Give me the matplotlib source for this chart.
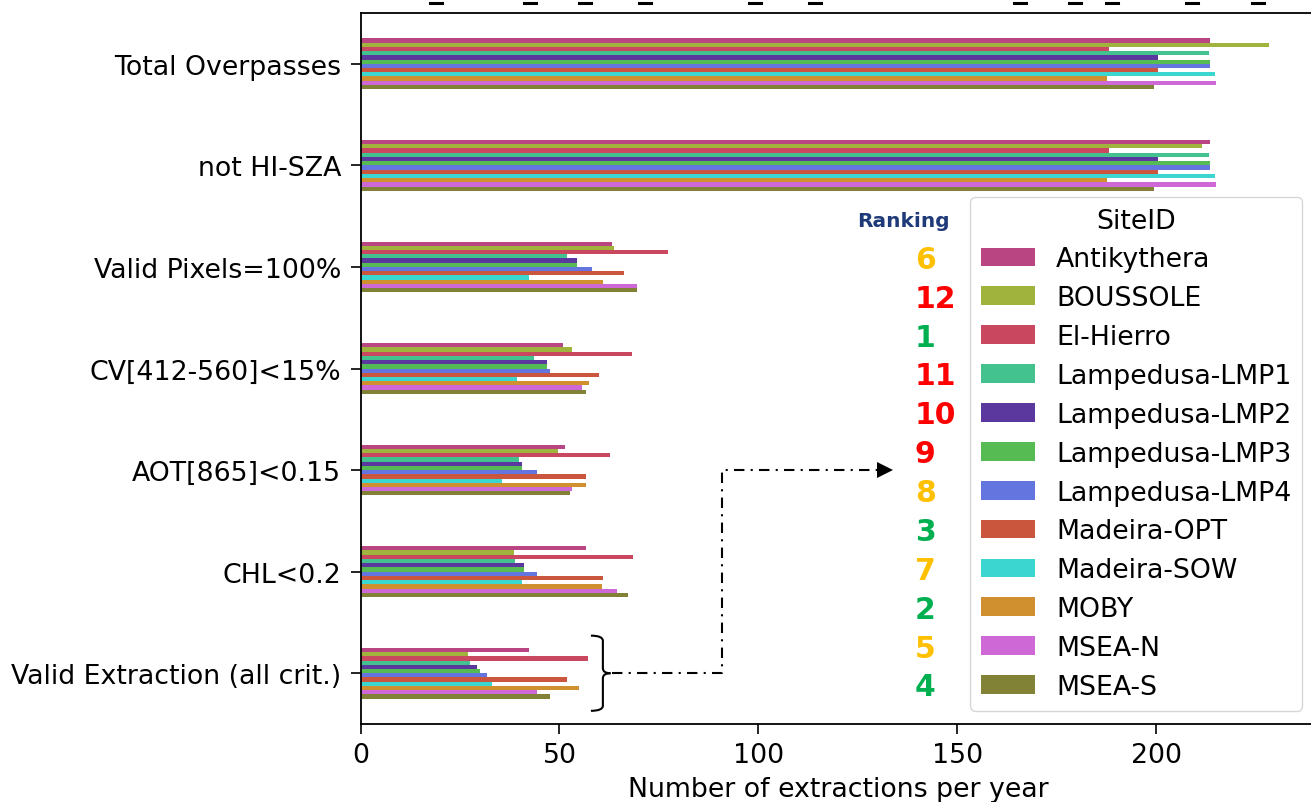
import numpy as np
import matplotlib
matplotlib.use("Agg")
import matplotlib.pyplot as plt
from matplotlib.lines import Line2D
from matplotlib.path import Path
from matplotlib.patches import PathPatch

# Filtering steps (rows) and sites (series)
criteria = ["Total Overpasses", "not HI-SZA", "Valid Pixels=100%",
            "CV[412-560]<15%", "AOT[865]<0.15", "CHL<0.2",
            "Valid Extraction (all crit.)"]
sites = ["Antikythera", "BOUSSOLE", "El-Hierro", "Lampedusa-LMP1",
         "Lampedusa-LMP2", "Lampedusa-LMP3", "Lampedusa-LMP4",
         "Madeira-OPT", "Madeira-SOW", "MOBY", "MSEA-N", "MSEA-S"]

# Extractions per year, one list per site, in the order of `criteria`
antikythera = [213.5, 213.5, 63.1, 50.8, 51.4, 56.7, 42.4]
boussole    = [228.4, 211.5, 63.7, 53.2, 49.7, 38.6, 26.9]
el_hierro   = [188.0, 188.0, 77.3, 68.3, 62.7, 68.5, 57.2]
lmp1        = [213.3, 213.3, 51.8, 43.6, 39.9, 38.8, 27.5]
lmp2        = [200.5, 200.5, 54.5, 46.9, 40.7, 41.1, 29.2]
lmp3        = [213.5, 213.5, 54.3, 46.9, 40.5, 41.1, 30.0]
lmp4        = [213.5, 213.5, 58.2, 47.5, 44.3, 44.3, 31.7]
madeira_opt = [200.5, 200.5, 66.2, 60.0, 56.6, 61.0, 52.0]
madeira_sow = [214.6, 214.6, 42.4, 39.2, 35.5, 40.7, 33.0]
moby        = [187.5, 187.5, 61.0, 57.5, 56.7, 60.8, 55.0]
msea_n      = [214.9, 214.9, 69.5, 55.7, 53.1, 64.4, 44.3]
msea_s      = [199.5, 199.5, 69.4, 56.6, 52.6, 67.1, 47.6]

series = [antikythera, boussole, el_hierro, lmp1, lmp2, lmp3, lmp4,
          madeira_opt, madeira_sow, moby, msea_n, msea_s]

# Ranking of each site (1 = best)
ranking = [6, 12, 1, 11, 10, 9, 8, 3, 7, 2, 5, 4]

colors = ["#b33579", "#98ad2c", "#c63752", "#33bd87", "#4c2795", "#49b545",
          "#5869de", "#c6472d", "#2bd3cd", "#cd871d", "#c95bd3", "#777725"]


def rank_color(r):
    if r <= 4:
        return "#00b050"
    if r <= 8:
        return "#ffc000"
    return "#ff0000"


plt.rcParams["font.family"] = ["DejaVu Sans"]
fs = 19.3

fig = plt.figure(figsize=(13.11, 8.03), dpi=100)
ax = fig.add_axes([0.275, 0.0971, 0.7285, 0.8855])

n = len(sites)
group_width = 0.5
w = group_width / n
ypos = np.arange(len(criteria))
for j, (name, vals, c) in enumerate(zip(sites, series, colors)):
    ax.barh(ypos - group_width / 2 + (j + 0.5) * w, vals, height=w,
            color=c, alpha=0.92, label=name)

ax.set_yticks(ypos)
ax.set_yticklabels(criteria, fontsize=fs)
ax.set_ylim(-0.5, len(criteria) - 0.5)
ax.invert_yaxis()
ax.set_xlim(0, 240)
ax.set_xticks([0, 50, 100, 150, 200])
ax.tick_params(axis="x", labelsize=fs, length=7, width=1.2, pad=6)
ax.tick_params(axis="y", length=7, width=1.2, pad=7)
ax.set_xlabel("Number of extractions per year", fontsize=fs, labelpad=6)
for sp in ax.spines.values():
    sp.set_linewidth(1.3)

leg = ax.legend(title="SiteID", loc="lower right", fontsize=fs,
                title_fontsize=fs, labelspacing=0.48)

# Curly bracket around the last group and dash-dot leader to the ranking
last = len(criteria) - 1
bx, half = 60.9, 0.37
tip = 62.8
verts = [(bx - 3.0, last - half), (bx, last - half), (bx, last - half + 0.05),
         (bx, last - 0.05), (bx, last), (tip, last),
         (bx, last), (bx, last + 0.05),
         (bx, last + half - 0.05), (bx, last + half), (bx - 3.0, last + half)]
codes = [Path.MOVETO, Path.CURVE3, Path.CURVE3,
         Path.LINETO, Path.CURVE3, Path.CURVE3,
         Path.CURVE3, Path.CURVE3,
         Path.LINETO, Path.CURVE3, Path.CURVE3]
ax.add_patch(PathPatch(Path(verts, codes), fill=False, lw=1.5,
                       edgecolor="black", clip_on=False))

target_row = 4
xs = [tip + 0.5, 90.8, 90.8, 131.0]
ys = [last, last, target_row, target_row]
ax.plot(xs, ys, color="black", lw=1.5, linestyle=(0, (5, 3, 1, 3)))
ax.plot([131.8], [target_row], marker=">", color="black", markersize=11,
        markeredgewidth=0)

# Underscores of the clipped caption line along the top edge
for px in [436, 530, 585, 645, 755, 815, 1020, 1075, 1112, 1192, 1258]:
    x0 = (px - 6) / 1311
    x1 = (px + 6) / 1311
    fig.add_artist(Line2D([x0, x1], [1 - 4 / 803, 1 - 4 / 803],
                          color="black", lw=2.2))

# Ranking column aligned with the legend entries
fig.canvas.draw()
renderer = fig.canvas.get_renderer()
inv = fig.transFigure.inverted()
rank_x = 915 / 1311
for txt, r in zip(leg.get_texts(), ranking):
    bb = txt.get_window_extent(renderer)
    ymid = inv.transform((0, (bb.y0 + bb.y1) / 2))[1]
    fig.text(rank_x, ymid, str(r), color=rank_color(r), fontsize=21.5,
             fontweight="bold", ha="left", va="center")

tb = leg.get_title().get_window_extent(renderer)
ty = inv.transform((0, (tb.y0 + tb.y1) / 2))[1]
fig.text(903 / 1311, ty, "Ranking", color="#1f3a78", fontsize=14.5,
         fontweight="bold", ha="center", va="center")

fig.savefig("out.png", dpi=100)
